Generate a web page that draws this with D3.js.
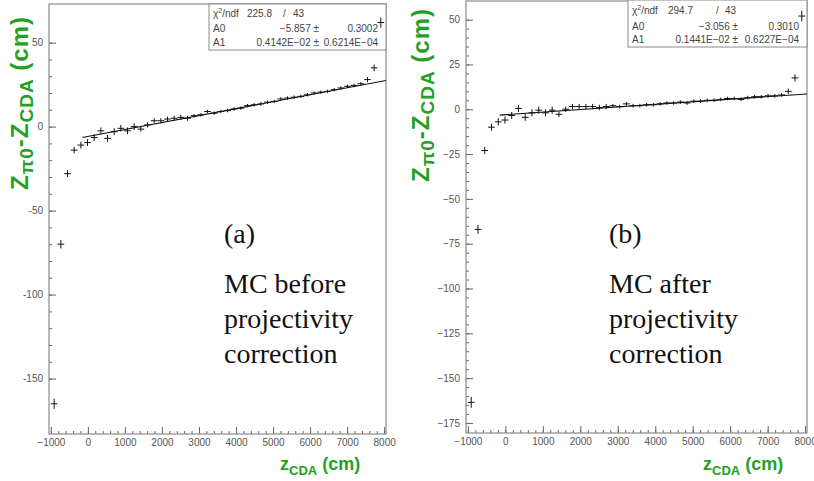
<!DOCTYPE html>
<html>
<head>
<meta charset="utf-8">
<script src="https://cdnjs.cloudflare.com/ajax/libs/d3/7.8.5/d3.min.js"></script>
<style>
body { margin: 0; background: #fff; }
</style>
</head>
<body>
<script>
// bin centres (cm) shared by both profiles
var binCenters = [-910, -730, -550, -370, -190, -10, 170, 350, 530, 710,
    890, 1070, 1250, 1430, 1610, 1790, 1970, 2150, 2330, 2510,
    2690, 2870, 3050, 3230, 3410, 3590, 3770, 3950, 4130, 4310,
    4490, 4670, 4850, 5030, 5210, 5390, 5570, 5750, 5930, 6110,
    6290, 6470, 6650, 6830, 7010, 7190, 7370, 7550, 7730, 7910];
var binHalfWidth = 90;

var valuesA = [-165, -70, -28, -14, -11, -9.5, -6.5, -2.5, -7, -3,
    -1, -2.5, 0, -1.5, 1, 3.5, 3.5, 4.5, 5, 5.5,
    5, 6.5, 7, 9, 8, 9, 9.5, 10.5, 11, 12.5,
    13, 13.5, 14.5, 15, 16.5, 17, 17.5, 18, 19, 20,
    20.5, 21, 22, 23, 24, 24.5, 25.5, 28, 35, 62];
var errorsA = [3, 2.5, 2, 2, 2, 2, 2, 2, 2, 2,
    2, 2, 2, 1.5, 1.5, 1.5, 1.5, 1.5, 1.5, 1.5,
    1.5, 1, 1, 1, 1, 1, 1, 1, 1, 1,
    1, 1, 1, 1, 1, 1, 1, 1, 1, 1,
    1, 1, 1, 1, 1, 1, 1, 1.5, 2, 3];

var valuesB = [-163.5, -67, -23, -10, -7, -6, -3.5, 0.5, -4.5, -2,
    -0.5, -2, -0.5, -2.8, 0, 1.5, 1.5, 1.5, 1.5, 1,
    1.5, 2, 1.5, 3, 2, 2, 2.5, 2.5, 3, 3.5,
    3.5, 4, 3.5, 4.5, 4.5, 5, 5, 5.5, 6, 6,
    5.5, 6.5, 7, 7, 7.5, 7.5, 8, 10, 17.5, 52];
var errorsB = [3, 2.5, 2, 2, 2, 2, 2, 2, 2, 2,
    2, 2, 2, 1.5, 1.5, 1.5, 1.5, 1.5, 1.5, 1.5,
    1.5, 1, 1, 1, 1, 1, 1, 1, 1, 1,
    1, 1, 1, 1, 1, 1, 1, 1, 1, 1,
    1, 1, 1, 1, 1, 1, 1, 1.5, 2, 3];

// straight line fits: [A0, A1]
var fitA = [-5.857, 0.4142e-02];
var fitB = [-3.056, 0.1441e-02];
var fitRange = [-150, 8050];

var xTicks = [-1000, 0, 1000, 2000, 3000, 4000, 5000, 6000, 7000, 8000];
var yTicksA = [50, 0, -50, -100, -150];
var yTicksB = [50, 25, 0, -25, -50, -75, -100, -125, -150, -175];

var statsA = [["225.8", "43"], ["A0", "\u22125.857 \u00b1", "0.3002"], ["A1", "0.4142E\u221202 \u00b1", "0.6214E\u221204"]];
var statsB = [["294.7", "43"], ["A0", "\u22123.056 \u00b1", "0.3010"], ["A1", "0.1441E\u221202 \u00b1", "0.6227E\u221204"]];

var captionA = ["(a)", "MC before", "projectivity", "correction"];
var captionB = ["(b)", "MC after", "projectivity", "correction"];

var width = 814,
    height = 481,
    green = "#23a023",
    frameColor = "#8a8a8a",
    labelColor = "#555";

var svg = d3.select("body")
    .append("svg")
    .attr("width", width)
    .attr("height", height)
    .style("font-family", "'Liberation Sans', Arial, sans-serif");

function drawPanel(p) {
    var x = d3.scaleLinear().domain([-1050, 8050]).range([p.left, p.right]),
        y = d3.scaleLinear().domain(p.yDomain).range([p.bottom, p.top]),
        g = svg.append("g");

    // axes: ticks point inwards, like ROOT
    g.append("g")
        .attr("transform", "translate(0," + p.bottom + ")")
        .call(d3.axisBottom(x).tickValues(xTicks).tickSize(-7).tickPadding(5)
            .tickFormat(function(d) { return d < 0 ? "\u2212" + Math.abs(d) : d; }));
    g.append("g")
        .attr("transform", "translate(0," + p.bottom + ")")
        .call(d3.axisBottom(x).tickValues(d3.range(-1000, 8001, 200)).tickSize(-3).tickFormat(""));
    g.append("g")
        .attr("transform", "translate(" + p.left + ",0)")
        .call(d3.axisLeft(y).tickValues(p.yTicks).tickSize(-7).tickPadding(6)
            .tickFormat(function(d) { return d < 0 ? p.minus + Math.abs(d) : d; }));
    g.append("g")
        .attr("transform", "translate(" + p.left + ",0)")
        .call(d3.axisLeft(y).tickValues(d3.range(p.yTicks[p.yTicks.length - 1], p.yTicks[0] + 1, p.minor)).tickSize(-3).tickFormat(""));
    g.selectAll(".domain").remove();
    g.selectAll(".tick line").attr("stroke", "#666");
    g.selectAll(".tick text")
        .attr("fill", labelColor)
        .style("font-size", "10px");

    g.append("rect")
        .attr("x", p.left)
        .attr("y", p.top)
        .attr("width", p.right - p.left)
        .attr("height", p.bottom - p.top)
        .attr("fill", "none")
        .attr("stroke", frameColor)
        .attr("stroke-width", 1.2);

    // stats box
    var b = p.box;
    g.append("rect")
        .attr("x", b.x0).attr("y", b.y0)
        .attr("width", p.right - b.x0).attr("height", b.y1 - b.y0)
        .attr("fill", "#fff")
        .attr("stroke", frameColor);
    var st = g.append("g")
        .attr("fill", "#444")
        .style("font-size", "10px");
    var chi = st.append("text")
        .attr("x", b.x0 + 4)
        .attr("y", b.rows[0]);
    chi.append("tspan").text("\u03c7");
    chi.append("tspan").attr("dy", -4).style("font-size", "7px").text("2");
    chi.append("tspan").attr("dy", 4).text("/ndf");
    st.append("text").attr("x", b.x0 + b.cols[0]).attr("y", b.rows[0]).attr("text-anchor", "end").text(p.stats[0][0]);
    st.append("text").attr("x", b.x0 + b.cols[1]).attr("y", b.rows[0]).text("/");
    st.append("text").attr("x", b.x0 + b.cols[2]).attr("y", b.rows[0]).text(p.stats[0][1]);
    [1, 2].forEach(function(i) {
        st.append("text").attr("x", b.x0 + 4).attr("y", b.rows[i]).text(p.stats[i][0]);
        st.append("text").attr("x", b.x0 + 110).attr("y", b.rows[i]).attr("text-anchor", "end").text(p.stats[i][1]);
        st.append("text").attr("x", p.right - 8).attr("y", b.rows[i]).attr("text-anchor", "end").text(p.stats[i][2]);
    });

    // fit line
    var line = d3.line()
        .x(function(d) { return x(d); })
        .y(function(d) { return y(p.fit[0] + p.fit[1] * d); });
    g.append("path")
        .datum(fitRange)
        .attr("d", line)
        .attr("fill", "none")
        .attr("stroke", "#111")
        .attr("stroke-width", 1.1);

    // profile points with error bars
    var pts = g.append("g")
        .attr("stroke", "#111")
        .attr("stroke-width", 1)
        .selectAll("g")
        .data(binCenters)
        .enter()
        .append("g");
    pts.append("line")
        .attr("x1", function(d) { return x(d - binHalfWidth); })
        .attr("x2", function(d) { return x(d + binHalfWidth); })
        .attr("y1", function(d, i) { return y(p.values[i]); })
        .attr("y2", function(d, i) { return y(p.values[i]); });
    pts.append("line")
        .attr("x1", function(d) { return x(d); })
        .attr("x2", function(d) { return x(d); })
        .attr("y1", function(d, i) { return y(p.values[i] - p.errors[i]); })
        .attr("y2", function(d, i) { return y(p.values[i] + p.errors[i]); });

    // captions
    g.append("g")
        .style("font-family", "'Liberation Serif', 'Times New Roman', serif")
        .style("font-size", "28px")
        .attr("fill", "#111")
        .selectAll("text")
        .data(p.caption)
        .enter()
        .append("text")
        .attr("x", p.captionX)
        .attr("y", function(d, i) { return [243, 293, 328, 363][i]; })
        .text(function(d) { return d; });

    // axis titles
    var yt = g.append("text")
        .attr("transform", "translate(" + p.yTitle[0] + "," + p.yTitle[1] + ") rotate(-90)")
        .attr("text-anchor", "middle")
        .attr("fill", green)
        .style("font-weight", "bold")
        .style("letter-spacing", "1px")
        .style("font-size", "24px");
    yt.append("tspan").text("Z");
    yt.append("tspan").attr("dy", 5).style("font-size", "19px").text("\u03c00");
    yt.append("tspan").attr("dy", -5).text("-Z");
    yt.append("tspan").attr("dy", 5).style("font-size", "19px").text("CDA");
    yt.append("tspan").attr("dy", -5).text(" (cm)");

    var xt = g.append("text")
        .attr("x", p.xTitle[0])
        .attr("y", p.xTitle[1])
        .attr("fill", green)
        .style("font-weight", "bold")
        .style("font-size", "18px");
    xt.append("tspan").text("z");
    xt.append("tspan").attr("dy", 5).style("font-size", "13px").text("CDA");
    xt.append("tspan").attr("dy", -5).text(" (cm)");
}

drawPanel({
    left: 49, right: 386, top: 4, bottom: 434,
    yDomain: [-183, 73], yTicks: yTicksA, minor: 10, minus: "-",
    values: valuesA, errors: errorsA, fit: fitA, stats: statsA,
    box: { x0: 209, y0: 4, y1: 50, rows: [17, 32, 46], cols: [63, 74, 84] },
    caption: captionA, captionX: 224,
    yTitle: [28, 103], xTitle: [280, 470]
});

drawPanel({
    left: 466, right: 807, top: 1, bottom: 433,
    yDomain: [-180.6, 60.4], yTicks: yTicksB, minor: 5, minus: "\u2212",
    values: valuesB, errors: errorsB, fit: fitB, stats: statsB,
    box: { x0: 628, y0: 0, y1: 47, rows: [14, 30, 43], cols: [65, 88, 97] },
    caption: captionB, captionX: 609,
    yTitle: [429, 95], xTitle: [703, 470]
});
</script>
</body>
</html>
